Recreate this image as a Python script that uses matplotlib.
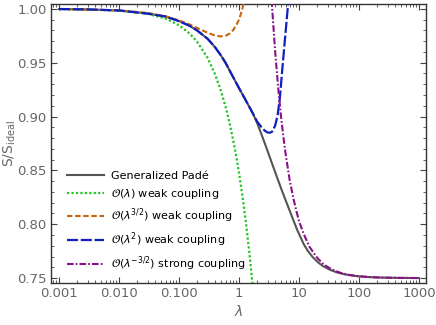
import matplotlib
matplotlib.use('Agg')
import matplotlib.pyplot as plt
from matplotlib.ticker import FixedLocator, NullFormatter, LogLocator

# values
# Generalized Pade (grey)
pade_lam = [0.001, 0.003, 0.01, 0.03, 0.06, 0.1, 0.15, 0.2, 0.3, 0.4, 0.5, 0.6, 0.75, 1.0,
            1.3, 1.7, 2.0, 2.4, 2.7, 3.2, 3.7, 4.4, 5.2, 6.0, 7.1, 8.0, 9.3, 12.0, 14.0,
            17.0, 21.0, 25.0, 33.0, 43.0, 60.0, 93.0, 150.0, 250.0, 500.0, 1000.0]
pade_val = [0.99985, 0.9995, 0.9985, 0.9956, 0.9929, 0.9886, 0.9843, 0.9800, 0.9722, 0.9643,
            0.9568, 0.9497, 0.9395, 0.9265, 0.9150, 0.9030, 0.8942, 0.8827, 0.8750, 0.8636,
            0.8538, 0.8422, 0.8312, 0.8222, 0.8118, 0.8043, 0.7950, 0.7815, 0.7754, 0.7694,
            0.7644, 0.7613, 0.7577, 0.7553, 0.7533, 0.7518, 0.7509, 0.75045, 0.75017, 0.75006]

# O(lambda) weak coupling (green)
w1_lam = [0.001, 0.01, 0.03, 0.06, 0.1, 0.15, 0.2, 0.3, 0.4, 0.5, 0.6, 0.7, 0.85, 1.0,
          1.15, 1.3, 1.5, 1.7]
w1_val = [0.99985, 0.9985, 0.9954, 0.9909, 0.9848, 0.9772, 0.9696, 0.9544, 0.9392, 0.9240,
          0.9088, 0.8936, 0.8708, 0.8480, 0.8252, 0.8024, 0.7720, 0.7416]

# O(lambda^3/2) weak coupling (orange)
w32_lam = [0.001, 0.01, 0.03, 0.06, 0.1, 0.15, 0.2, 0.3, 0.4, 0.5, 0.6, 0.7, 0.8, 0.9,
           1.0, 1.1, 1.2]
w32_val = [0.99985, 0.9986, 0.9962, 0.9930, 0.9893, 0.9855, 0.9823, 0.9778, 0.9752, 0.9744,
           0.9750, 0.9771, 0.9803, 0.9847, 0.9900, 0.9971, 1.0050]

# O(lambda^2) weak coupling (blue)
w2_lam = [0.001, 0.003, 0.01, 0.03, 0.06, 0.1, 0.15, 0.2, 0.3, 0.4, 0.5, 0.6, 0.75, 1.0,
          1.3, 1.7, 2.0, 2.4, 2.7, 3.0, 3.3, 3.6, 4.0, 4.4, 4.8, 5.2, 5.6, 6.0, 6.6]
w2_val = [0.99985, 0.9995, 0.9985, 0.9956, 0.9929, 0.9886, 0.9843, 0.9800, 0.9722, 0.9643,
          0.9568, 0.9497, 0.9395, 0.9265, 0.9150, 0.9030, 0.8955, 0.8898, 0.8868, 0.8852,
          0.8850, 0.8862, 0.8915, 0.9010, 0.9170, 0.9400, 0.9605, 0.9790, 1.0050]

# O(lambda^-3/2) strong coupling (purple)
s32_lam = [3.5, 4.0, 4.5, 5.0, 5.5, 6.0, 7.0, 8.0, 9.0, 10.0, 12.0, 15.0, 20.0, 25.0, 30.0,
           40.0, 50.0, 70.0, 100.0, 200.0, 500.0, 1000.0]
s32_val = [1.0080, 0.9610, 0.9270, 0.9010, 0.8810, 0.8650, 0.8410, 0.8250, 0.8130, 0.8030,
           0.7910, 0.7790, 0.7690, 0.7635, 0.7603, 0.7567, 0.7548, 0.7529, 0.7517, 0.7506,
           0.7502, 0.7501]

labels = ['Generalized Padé',
          r'$\mathcal{O}(\lambda)$ weak coupling',
          r'$\mathcal{O}(\lambda^{3/2})$ weak coupling',
          r'$\mathcal{O}(\lambda^{2})$ weak coupling',
          r'$\mathcal{O}(\lambda^{-3/2})$ strong coupling']

fig = plt.figure(figsize=(4.36, 3.25), dpi=100)
ax = fig.add_axes([0.117, 0.129, 0.860, 0.859])

ax.plot(pade_lam, pade_val, color='#555555', lw=1.5, label=labels[0], zorder=2)
ax.plot(w1_lam, w1_val, color='#22c422', lw=1.6, dashes=(1.0, 1.0), label=labels[1], zorder=3)
ax.plot(w32_lam, w32_val, color='#c8640a', lw=1.5, dashes=(2.6, 1.3), label=labels[2], zorder=3)
ax.plot(w2_lam, w2_val, color='#1020c0', lw=1.6, dashes=(5.0, 1.2), label=labels[3], zorder=4)
ax.plot(s32_lam, s32_val, color='#8a108a', lw=1.5, dashes=(3.2, 1.0, 0.8, 1.0),
        label=labels[4], zorder=4)

ax.set_xscale('log')
ax.set_xlim(7.36e-4, 1309)
ax.set_ylim(0.7454, 1.0046)

ax.set_xticks([0.001, 0.01, 0.1, 1, 10, 100, 1000])
ax.set_xticklabels(['0.001', '0.010', '0.100', '1', '10', '100', '1000'])
ax.xaxis.set_minor_locator(LogLocator(base=10, subs=range(2, 10)))
ax.xaxis.set_minor_formatter(NullFormatter())
ax.set_yticks([0.75, 0.80, 0.85, 0.90, 0.95, 1.00])
ax.set_yticklabels(['0.75', '0.80', '0.85', '0.90', '0.95', '1.00'])
ax.yaxis.set_minor_locator(FixedLocator([0.75 + 0.01 * i for i in range(26)]))

ax.tick_params(which='both', direction='in', top=True, right=True,
               labelsize=9.5, labelcolor='#666666', color='#444444', pad=3)
ax.tick_params(which='major', length=4, width=0.8)
ax.tick_params(which='minor', length=2, width=0.6)
for sp in ax.spines.values():
    sp.set_color('#333333')
    sp.set_linewidth(1.0)

ax.set_xlabel(r'$\lambda$', fontsize=10, color='#666666', labelpad=3)
ax.set_ylabel(r'S/S$_{\mathrm{ideal}}$', fontsize=10, color='#666666')
ax.yaxis.set_label_coords(-0.088, 0.5)

ax.legend(loc='upper left', bbox_to_anchor=(0.03, 0.417), frameon=False, fontsize=8,
          handlelength=3.4, handletextpad=0.6, labelspacing=0.5, borderaxespad=0)

fig.savefig('out.png', dpi=100)
